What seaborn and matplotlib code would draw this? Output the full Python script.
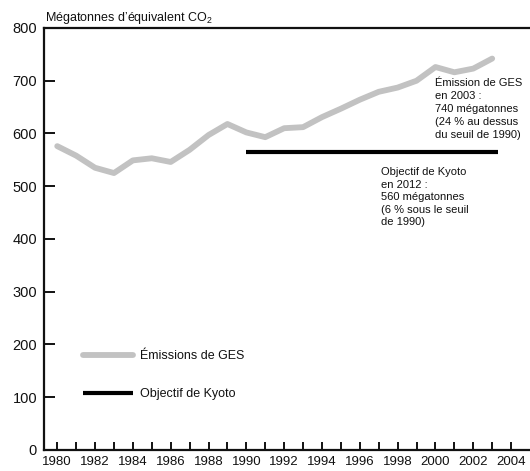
import numpy as np
import pandas as pd
import matplotlib
matplotlib.use("Agg")
import matplotlib.pyplot as plt
import seaborn as sns

# Data
years = list(range(1980, 2004))
emissions = [576, 558, 535, 525, 549, 553, 546, 569, 597, 618, 602, 593,
             610, 612, 631, 647, 664, 679, 687, 700, 726, 716, 723, 742]
kyoto_years = [1990, 2003.3]
kyoto_values = [565, 565]

ylabel_text = "Mégatonnes d\u2019équivalent CO$_2$"
note_ges = "Émission de GES\nen 2003 :\n740 mégatonnes\n(24 % au dessus\ndu seuil de 1990)"
note_kyoto = "Objectif de Kyoto\nen 2012 :\n560 mégatonnes\n(6 % sous le seuil\nde 1990)"

sns.set_theme(style="white")
plt.rcParams.update({
    'font.family': ['Liberation Sans', 'DejaVu Sans'],
    'mathtext.fontset': 'custom',
    'mathtext.rm': 'Liberation Sans',
    'axes.edgecolor': '#111111',
    'axes.linewidth': 1.6,
    'text.color': '#111111',
})

df = pd.DataFrame({'year': years, 'value': emissions})
kdf = pd.DataFrame({'year': kyoto_years, 'value': kyoto_values})

fig = plt.figure(figsize=(5.30, 4.71), dpi=100)
ax = fig.add_axes([0.083, 0.0446, 0.917, 0.896])

sns.lineplot(data=df, x='year', y='value', ax=ax, color='#c2c2c2',
             linewidth=4.2, solid_capstyle='round', label='Émissions de GES')
sns.lineplot(data=kdf, x='year', y='value', ax=ax, color='#000000',
             linewidth=3.0, solid_capstyle='butt', label='Objectif de Kyoto')

ax.set_xlim(1979.3, 2005.0)
ax.set_ylim(0, 800)
ax.set_xlabel('')
ax.set_ylabel('')

ax.set_xticks(range(1980, 2005))
ax.set_xticklabels([str(y) if y % 2 == 0 else '' for y in range(1980, 2005)])
ax.set_yticks(range(0, 900, 100))
ax.tick_params(axis='x', direction='in', length=5.5, width=1.4, labelsize=9.5, pad=4,
               bottom=True, colors='#111111')
ax.tick_params(axis='y', direction='in', length=8, width=1.4, labelsize=10.5, pad=5,
               left=True, colors='#111111')

ax.spines['right'].set_visible(False)
ax.spines['top'].set_visible(True)
ax.spines['top'].set_linewidth(1.6)

fig.text(0.085, 0.962, ylabel_text, fontsize=9, ha='left', va='center')

ax.text(2000.0, 706, note_ges, fontsize=8, ha='left', va='top', linespacing=1.38)
ax.text(1997.1, 536, note_kyoto, fontsize=8, ha='left', va='top', linespacing=1.32)

leg = ax.legend(loc='lower left', bbox_to_anchor=(0.058, 0.092), frameon=False,
                fontsize=9, handlelength=4.0, handletextpad=0.5, labelspacing=2.05)

fig.savefig('out.png', dpi=100)
